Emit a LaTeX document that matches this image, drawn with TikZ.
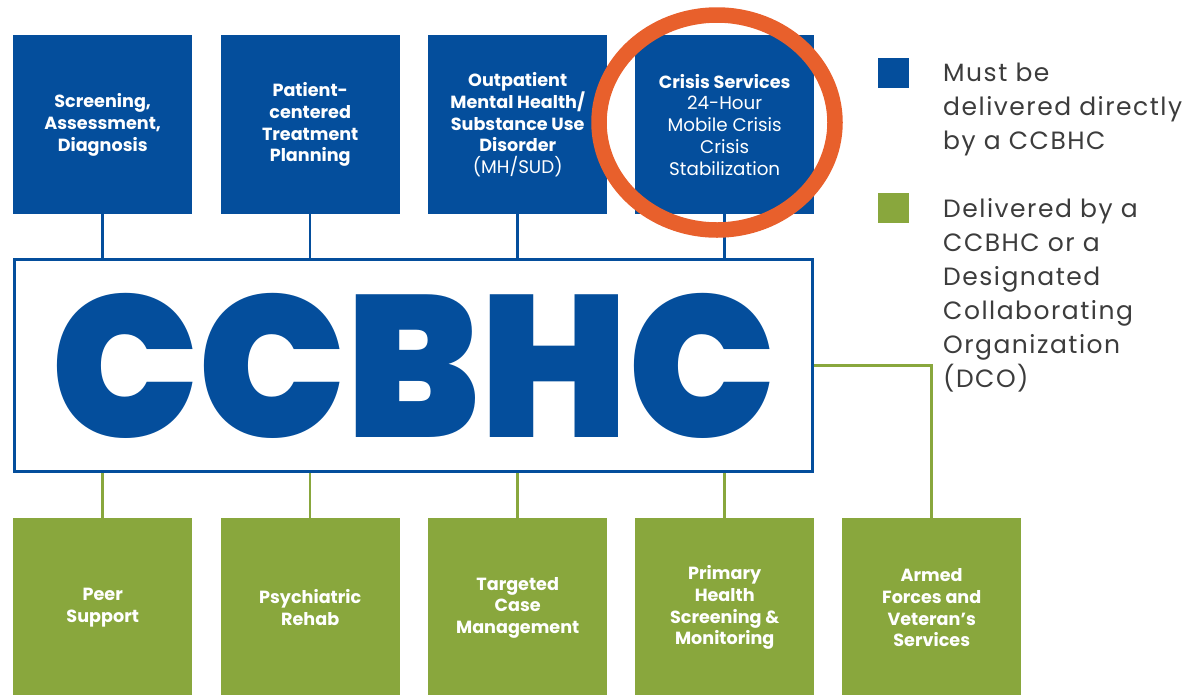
\documentclass[tikz,border=0pt]{standalone}
\usepackage{fontspec}
\setmainfont{Poppins}
\newfontfamily\heavy{Poppins Black}
\newfontfamily\legfont{Poppins}[LetterSpace=6]
\newcommand\lite{\mdseries\fontsize{18.3}{21.7}\selectfont}
\definecolor{cblue}{RGB}{4,78,156}
\definecolor{cgreen}{RGB}{137,167,61}
\definecolor{corange}{RGB}{232,96,44}
\definecolor{cgray}{RGB}{60,60,60}
\begin{document}
\begin{tikzpicture}[x=1pt,y=-1pt,
  svc/.style={minimum width=179pt,minimum height=179pt,inner sep=0pt,anchor=north west,
    text=white,align=center,font=\fontsize{17.6}{21.7}\selectfont\bfseries},
  must/.style={svc,fill=cblue},
  dco/.style={svc,fill=cgreen},
  bline/.style={cblue,line width=2.5pt},
  gline/.style={cgreen,line width=2.5pt},
  legsq/.style={minimum width=31pt,minimum height=30pt,inner sep=0pt,anchor=north west},
  legtext/.style={anchor=north west,inner sep=0pt,align=left,text=cgray,
    font=\legfont\fontsize{25}{34}\selectfont}]
\useasboundingbox (0,0) rectangle (1188,694);
% top row
\node[must] (t1) at (13,35) {Screening,\\Assessment,\\Diagnosis};
\node[must] (t2) at (220.5,35) {Patient-\\centered\\Treatment\\Planning};
\node[must] (t3) at (428,35) {Outpatient\\Mental Health/\\Substance Use\\Disorder\\\lite (MH/SUD)};
\node[must] (t4) at (635,35) {Crisis Services\\\lite 24-Hour\\\lite Mobile Crisis\\\lite Crisis\\\lite Stabilization};
% center
\node[draw=cblue,line width=3pt,minimum width=798pt,minimum height=212pt,inner sep=0pt,text=cblue]
  (ccbhc) at (413.5,365.5) {\resizebox{723pt}{144pt}{\heavy CCBHC}};
% bottom row
\node[dco] (b1) at (13,518) {Peer\\Support};
\node[dco] (b2) at (220.5,518) {Psychiatric\\Rehab};
\node[dco] (b3) at (428,518) {Targeted\\Case\\Management};
\node[dco] (b4) at (635,518) {Primary\\Health\\Screening \&\\Monitoring};
\node[dco] (b5) at (842,518) {Armed\\Forces and\\Veteran’s\\Services};
% connectors
\foreach \n in {t1,t2,t3,t4} \draw[bline] (\n.south) -- (\n.south |- ccbhc.north);
\foreach \n in {b1,b2,b3,b4} \draw[gline] (\n.north) -- (\n.north |- ccbhc.south);
\draw[gline] (ccbhc.east) -| (b5.north);
% legend
\node[legsq,fill=cblue] (lb) at (878,58) {};
\node[legsq,fill=cgreen] (lg) at (878,193) {};
\node[legtext] (lbt) at (943,62.5) {Must be\\delivered directly\\by a CCBHC};
\node[legtext] (lgt) at (943,198.5) {Delivered by a\\CCBHC or a\\Designated\\Collaborating\\Organization\\(DCO)};
% highlight
\draw[corange,line width=15.5pt] (717,122.5) ellipse [x radius=118, y radius=107.5];
\end{tikzpicture}
\end{document}
